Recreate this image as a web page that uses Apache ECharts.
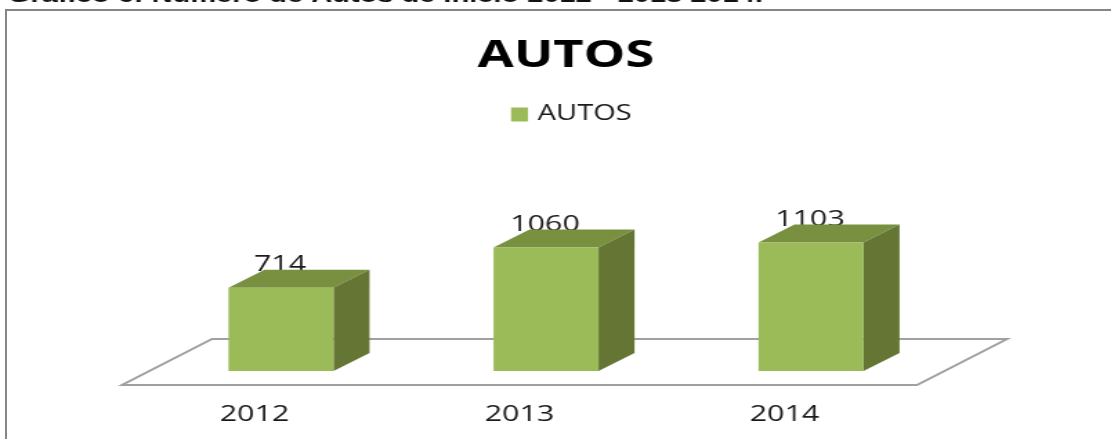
<!DOCTYPE html>
<html>
<head>
<meta charset="utf-8">
<script src="https://cdn.jsdelivr.net/npm/echarts@6/dist/echarts.min.js"></script>
<style>
  html, body { margin: 0; padding: 0; background: #fff; overflow: hidden; }
  /* the source picture is stretched sideways, so the whole chart is too */
  #chart { position: absolute; left: 0; top: 0; width: 804px; height: 439px; transform: scaleX(1.382); transform-origin: 0 0; }
  #frame { position: absolute; left: 5px; top: 9px; right: -4px; bottom: -4px; border: 2px solid #868686; }
</style>
</head>
<body>
<div id="chart"></div>
<div id="frame"></div>
<script>
const categories = ['2012', '2013', '2014']
const autos = [714, 1060, 1103]
const seriesName = 'AUTOS'
const heading = 'Gráfico 6: Número de Autos de Inicio 2012 - 2013 2014.'

const k = 1.382
const px = v => v / k

let mychart = echarts.init(document.getElementById('chart'))

function renderFloor(params, api) {
  let cs = params.coordSys
  let zero = api.coord([0, 0])[1]
  let l = cs.x, r = cs.x + cs.width, shift = px(90)
  return {
    type: 'polygon',
    shape: { points: [[l, zero + 14], [r, zero + 14], [r + shift, zero - 32], [l + shift, zero - 32]] },
    style: { fill: '#fff', stroke: '#a0a0a0', lineWidth: 2 }
  }
}

function renderBar(params, api) {
  let p = api.coord([api.value(0), api.value(1)])
  let zero = api.coord([api.value(0), 0])[1]
  let w = px(105), dx = px(36), dy = 18
  let x0 = p[0] + px(26.5) - w / 2
  let x1 = x0 + w
  let top = p[1]
  return {
    type: 'group',
    children: [
      {
        type: 'text',
        style: {
          text: String(api.value(1)),
          x: x0 + w / 2 - px(1),
          y: top - 23,
          align: 'center',
          verticalAlign: 'middle',
          font: '22px "Open Sans"',
          fill: '#1a1a1a'
        }
      },
      {
        type: 'polygon',
        shape: { points: [[x0, top], [x0 + dx, top - dy], [x1 + dx, top - dy], [x1, top]] },
        style: { fill: '#789040' }
      },
      {
        type: 'polygon',
        shape: { points: [[x1, top], [x1 + dx, top - dy], [x1 + dx, zero - dy], [x1, zero]] },
        style: { fill: '#647534' }
      },
      {
        type: 'rect',
        shape: { x: x0, y: top, width: w, height: zero - top },
        style: { fill: '#9bbb59' }
      }
    ]
  }
}

let option = {
  animation: false,
  title: [
    {
      text: heading,
      left: px(8),
      top: -14,
      padding: 0,
      textStyle: { fontFamily: 'Liberation Sans', fontSize: 21, fontWeight: 'bold', color: '#111' }
    },
    {
      text: seriesName,
      left: px(559),
      top: 32,
      textAlign: 'center',
      textStyle: { fontFamily: 'Open Sans', fontSize: 38, fontWeight: 'bold', color: '#000' }
    }
  ],
  legend: {
    data: [seriesName],
    left: px(511) - 5,
    top: 99,
    icon: 'rect',
    itemWidth: px(17),
    itemHeight: 14,
    textStyle: { fontFamily: 'Open Sans', fontSize: 21, color: '#1a1a1a', padding: [0, 0, 0, 2] }
  },
  grid: { left: px(122), width: px(795), top: 138, bottom: 68 },
  xAxis: {
    type: 'category',
    data: categories,
    axisLine: { show: false },
    axisTick: { show: false },
    axisLabel: { margin: 33, fontFamily: 'Open Sans', fontSize: 22, color: '#1a1a1a' }
  },
  yAxis: { type: 'value', min: 0, max: 2000, show: false },
  series: [
    {
      type: 'custom',
      silent: true,
      z: 1,
      data: [[0, 0]],
      renderItem: renderFloor
    },
    {
      name: seriesName,
      type: 'custom',
      z: 2,
      itemStyle: { color: '#9bbb59' },
      encode: { x: 0, y: 1 },
      data: categories.map((c, i) => [i, autos[i]]),
      renderItem: renderBar
    }
  ]
}
mychart.setOption(option)
</script>
</body>
</html>
